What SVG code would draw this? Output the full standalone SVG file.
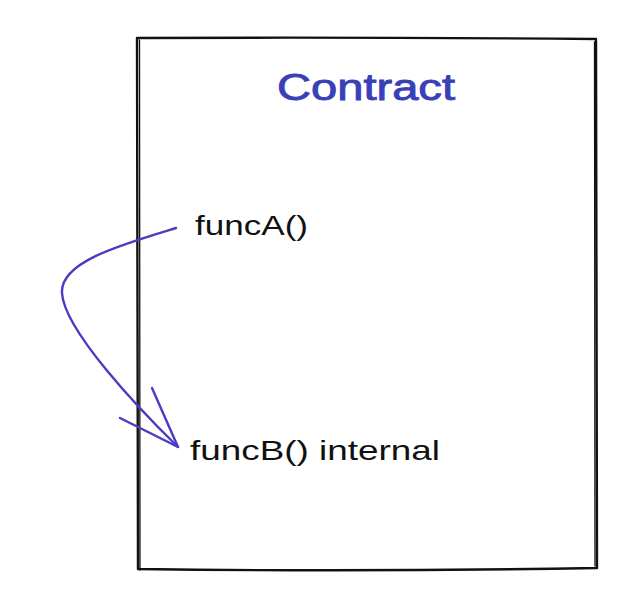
<svg xmlns="http://www.w3.org/2000/svg" width="622" height="591" viewBox="0 0 622 591">
<style>
.border{fill:none;stroke:#111;stroke-width:2.4;stroke-linecap:round;stroke-linejoin:round}
.thin{fill:none;stroke:#111;stroke-width:1.3;stroke-linecap:round}
.lbl{font-family:"Liberation Sans",Arial,sans-serif;fill:#111;font-size:28px}
.title{font-family:"Liberation Sans",Arial,sans-serif;fill:#3a3fb8;stroke:#3a3fb8;stroke-width:0.9;font-size:37px}
.conn{fill:none;stroke:#4a3cc0;stroke-width:2.4;stroke-linecap:round;stroke-linejoin:round}
</style>
<rect width="622" height="591" fill="#fff"/>
<g id="contract">
<path class="border" d="M137 38 Q360 37 596 39 L597 568 Q360 572 138 569 L137 38 Z"/>
<path class="thin" d="M139.5 40 L140 570"/>
<path class="thin" d="M594.5 42 L595 566"/>
<text class="title" x="277" y="100" textLength="178" lengthAdjust="spacingAndGlyphs">Contract</text>
</g>
<g id="funcA">
<text class="lbl" x="195" y="235" textLength="113" lengthAdjust="spacingAndGlyphs">funcA()</text>
</g>
<g id="funcB">
<text class="lbl" x="190" y="460" textLength="250" lengthAdjust="spacingAndGlyphs">funcB() internal</text>
</g>
<g id="connectors">
<path class="conn" d="M176 228 C120 245 60 262 62 293 C64 330 140 410 178 447"/>
<path class="conn" d="M152 388 L178 447 L120 418"/>
</g>
</svg>
